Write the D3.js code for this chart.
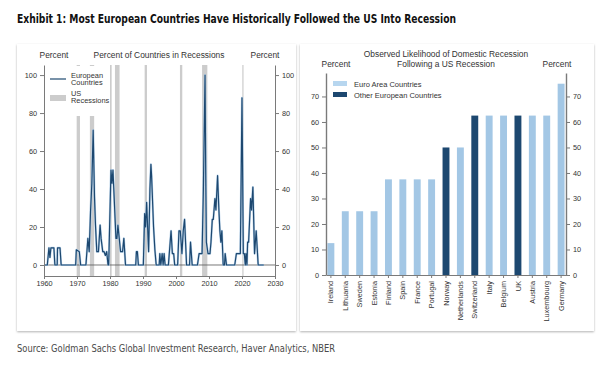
<!DOCTYPE html>
<html lang="en">
<head>
<meta charset="UTF-8">
<script src="https://d3js.org/d3.v7.min.js"></script>
<title>Exhibit 1</title>
<style>
  body { margin: 0; background: #fff; }
  svg text { font-family: 'Liberation Sans', Arial, sans-serif; fill: #333; }
  .head { font-family: 'DejaVu Sans Condensed', 'Liberation Sans Narrow', sans-serif; }
</style>
</head>
<body>
<svg id="chart" width="609" height="385"></svg>
<script>
// ---- data: share of European countries in recession (year, percent)
const euroYears = [1960.0, 1961.0, 1961.5, 1961.8, 1962.1, 1963.0, 1963.3, 1964.0, 1964.1, 1964.85, 1965.2,
  1969.6, 1969.8, 1970.7, 1971.1, 1972.7, 1973.3, 1973.7, 1974.1, 1974.5, 1974.9, 1975.3, 1975.6, 1976.0, 1976.5,
  1977.0, 1977.3, 1977.8, 1978.2, 1978.6, 1979.0, 1979.4, 1979.6, 1980.3, 1980.6, 1980.9, 1981.8, 1982.1, 1982.4,
  1982.8, 1983.2, 1983.8, 1984.2, 1984.7, 1987.8, 1988.0, 1988.3, 1988.6, 1990.1, 1990.5, 1990.8, 1991.1, 1991.7,
  1992.1, 1992.4, 1992.6, 1993.2, 1993.6, 1994.0, 1994.9, 1995.1, 1995.4, 1995.8, 1996.1, 1996.4, 1996.7, 1997.7,
  1998.5, 1998.9, 1999.3, 1999.6, 2000.5, 2000.9, 2001.3, 2001.8, 2002.2, 2002.6, 2002.9, 2003.2, 2004.1, 2004.4,
  2004.9, 2006.5, 2007.0, 2007.5, 2007.9, 2008.3, 2008.8, 2009.0, 2009.2, 2009.7, 2010.3, 2010.6, 2011.0, 2011.3,
  2011.8, 2012.1, 2012.6, 2013.0, 2013.3, 2013.6, 2013.9, 2014.3, 2014.7, 2014.9, 2015.3, 2017.8, 2018.3, 2018.9,
  2019.5, 2020.0, 2020.4, 2020.7, 2021.0, 2021.2, 2021.5, 2021.7, 2022.0, 2022.6, 2022.9, 2023.3, 2023.8, 2024.3,
  2024.9, 2026.6];
const euroPct = [0, 0, 9, 4, 9, 9, 0, 0, 9, 9, 0,
  0, 8, 7, 0, 0, 14, 7, 28, 43, 71, 36, 21, 7, 7,
  21, 14, 7, 7, 5, 7, 0, 0, 50, 43, 50, 14, 14, 21,
  14, 7, 7, 14, 0, 0, 7, 7, 0, 0, 27, 20, 33, 7,
  40, 53, 47, 20, 8, 0, 0, 6, 0, 6, 0, 6, 0, 0,
  18, 6, 6, 0, 0, 18, 18, 6, 18, 24, 12, 0, 0, 12,
  0, 0, 6, 6, 6, 40, 100, 50, 12, 6, 6, 12, 24, 24,
  35, 29, 47, 29, 18, 12, 18, 0, 0, 6, 0, 0, 6, 6,
  6, 88, 6, 6, 0, 6, 0, 12, 12, 35, 29, 41, 6, 18,
  0, 0];

// NBER US recessions
const recStart = [1969.9, 1973.9, 1980.0, 1981.5, 1990.5, 2001.2, 2007.9, 2020.1];
const recEnd   = [1970.9, 1975.2, 1980.5, 1982.9, 1991.2, 2001.9, 2009.5, 2020.35];

// likelihood of domestic recession after a US recession
const countries = ["Ireland", "Lithuania", "Sweden", "Estonia", "Finland", "Spain", "France", "Portugal", "Norway",
  "Netherlands", "Switzerland", "Italy", "Belgium", "UK", "Austria", "Luxembourg", "Germany"];
const likelihood = [12.5, 25, 25, 25, 37.5, 37.5, 37.5, 37.5, 50, 50, 62.5, 62.5, 62.5, 62.5, 62.5, 62.5, 75];
const isEuro = [1, 1, 1, 1, 1, 1, 1, 1, 0, 1, 0, 1, 1, 0, 1, 1, 1];

const lineTicks = [0, 20, 40, 60, 80, 100];
const yearTicks = [1960, 1970, 1980, 1990, 2000, 2010, 2020, 2030];
const barTicks = [0, 10, 20, 30, 40, 50, 60, 70];

const navy = "#1d4870", lightBlue = "#a3c7e5", recGray = "#cccccc", axisGray = "#7a7a7a";

const svg = d3.select("#chart");

// panel shadow
const defs = svg.append("defs");
const f = defs.append("filter").attr("id", "shadow").attr("x", "-5%").attr("y", "-5%").attr("width", "110%").attr("height", "115%");
f.append("feDropShadow").attr("dx", 0).attr("dy", 1).attr("stdDeviation", 1).attr("flood-color", "#000").attr("flood-opacity", 0.3);

svg.append("rect").attr("x", 17).attr("y", 44).attr("width", 279).attr("height", 287)
  .attr("fill", "#fff").attr("filter", "url(#shadow)");
svg.append("rect").attr("x", 300).attr("y", 44).attr("width", 294).attr("height", 287)
  .attr("fill", "#fff").attr("filter", "url(#shadow)");

// header + source
svg.append("text").attr("class", "head").attr("x", 17).attr("y", 23)
  .attr("font-size", 13).attr("font-weight", "bold").style("fill", "#111")
  .attr("textLength", 439).attr("lengthAdjust", "spacingAndGlyphs")
  .text("Exhibit 1: Most European Countries Have Historically Followed the US Into Recession");
svg.append("text").attr("class", "head").attr("x", 17).attr("y", 352)
  .attr("font-size", 11).style("fill", "#4a4a4a")
  .attr("textLength", 318).attr("lengthAdjust", "spacingAndGlyphs")
  .text("Source: Goldman Sachs Global Investment Research, Haver Analytics, NBER");

// ---------------- left chart
const x = d3.scaleLinear().domain([1960, 2030]).range([44, 275]);
const y = d3.scaleLinear().domain([-5.8, 105.3]).range([276, 65]);

const L = svg.append("g");
L.selectAll("rect.rec").data(recStart).join("rect")
  .attr("class", "rec")
  .attr("x", (d) => x(d))
  .attr("width", (d, i) => Math.max(1.2, x(recEnd[i]) - x(d)))
  .attr("y", y(105.3)).attr("height", y(-5.8) - y(105.3))
  .attr("fill", recGray);

L.append("line").attr("x1", x(1960)).attr("x2", x(2030)).attr("y1", y(0)).attr("y2", y(0))
  .attr("stroke", "#555").attr("stroke-width", 0.8);

const line = d3.line().x((d, i) => x(euroYears[i])).y((d) => y(d));
L.append("path").datum(euroPct).attr("d", line)
  .attr("fill", "none").attr("stroke", "#b9d3ea").attr("stroke-width", 2.2).attr("stroke-linejoin", "round");
L.append("path").datum(euroPct).attr("d", line)
  .attr("fill", "none").attr("stroke", navy).attr("stroke-width", 1.2).attr("stroke-linejoin", "round");

function styleAxis(g) {
  g.selectAll("path, line").attr("stroke", axisGray);
  g.selectAll("text").attr("font-size", 7.3).style("fill", "#333").attr("font-family", "'Liberation Sans', Arial, sans-serif");
}
L.append("g").attr("transform", "translate(44,0)")
  .call(d3.axisLeft(y).tickValues(lineTicks).tickSize(4).tickSizeOuter(0).tickPadding(3)).call(styleAxis);
L.append("g").attr("transform", "translate(275,0)")
  .call(d3.axisRight(y).tickValues(lineTicks).tickSize(4).tickSizeOuter(0).tickPadding(3)).call(styleAxis);
L.append("g").attr("transform", "translate(0,276)")
  .call(d3.axisBottom(x).tickValues(yearTicks).tickFormat(d3.format("d")).tickSize(3).tickSizeOuter(0).tickPadding(2)).call(styleAxis);

// legend (white box hides recession bars behind it)
L.append("rect").attr("x", 45).attr("y", 66).attr("width", 63).attr("height", 50).attr("fill", "#fff");
L.append("line").attr("x1", 50).attr("x2", 66).attr("y1", 79).attr("y2", 79).attr("stroke", navy).attr("stroke-width", 1.2);
L.append("rect").attr("x", 50).attr("y", 95).attr("width", 16).attr("height", 6).attr("fill", recGray);
[["European", 77.5], ["Countries", 85], ["US", 95.5], ["Recessions", 103]].forEach(([t, yy]) => {
  L.append("text").attr("x", 71).attr("y", yy).attr("font-size", 7.4).text(t);
});
L.append("text").attr("x", 54).attr("y", 58).attr("font-size", 8.4).attr("text-anchor", "middle").text("Percent");
L.append("text").attr("x", 159).attr("y", 58).attr("font-size", 8.4).attr("text-anchor", "middle").text("Percent of Countries in Recessions");
L.append("text").attr("x", 265).attr("y", 58).attr("font-size", 8.4).attr("text-anchor", "middle").text("Percent");

// ---------------- right chart
const xb = d3.scaleBand().domain(countries).range([326, 566]).paddingInner(0.52).paddingOuter(0.1);
const yb = d3.scaleLinear().domain([0, 79.2]).range([275, 73]);

const R = svg.append("g");
R.selectAll("rect.bar").data(likelihood).join("rect")
  .attr("class", "bar")
  .attr("x", (d, i) => xb(countries[i]))
  .attr("width", xb.bandwidth())
  .attr("y", (d) => yb(d))
  .attr("height", (d) => yb(0) - yb(d))
  .attr("fill", (d, i) => isEuro[i] ? lightBlue : navy);

R.append("g").attr("transform", "translate(326,0)")
  .call(d3.axisLeft(yb).tickValues(barTicks).tickSize(4).tickSizeOuter(0).tickPadding(3)).call(styleAxis);
R.append("g").attr("transform", "translate(566,0)")
  .call(d3.axisRight(yb).tickValues(barTicks).tickSize(4).tickSizeOuter(0).tickPadding(3)).call(styleAxis);
R.selectAll(".domain").attr("stroke-width", 1.4);

const xa = R.append("g").attr("transform", "translate(0,275)")
  .call(d3.axisBottom(xb).tickSize(3).tickSizeOuter(0)).call(styleAxis);
xa.selectAll("text").attr("transform", "rotate(-90)").attr("text-anchor", "end")
  .attr("x", -6).attr("y", 0).attr("dy", "0.35em");

R.append("rect").attr("x", 333).attr("y", 81).attr("width", 14).attr("height", 5).attr("fill", "#b7d6ef");
R.append("rect").attr("x", 333).attr("y", 92).attr("width", 14).attr("height", 5).attr("fill", navy);
R.append("text").attr("x", 354).attr("y", 86.5).attr("font-size", 7.5).text("Euro Area Countries");
R.append("text").attr("x", 354).attr("y", 97.5).attr("font-size", 7.5).text("Other European Countries");

R.append("text").attr("x", 446).attr("y", 57).attr("font-size", 8.4).attr("text-anchor", "middle").text("Observed Likelihood of Domestic Recession");
R.append("text").attr("x", 446).attr("y", 67).attr("font-size", 8.4).attr("text-anchor", "middle").text("Following a US Recession");
R.append("text").attr("x", 336).attr("y", 67).attr("font-size", 8.4).attr("text-anchor", "middle").text("Percent");
R.append("text").attr("x", 557).attr("y", 67).attr("font-size", 8.4).attr("text-anchor", "middle").text("Percent");
</script>
</body>
</html>
